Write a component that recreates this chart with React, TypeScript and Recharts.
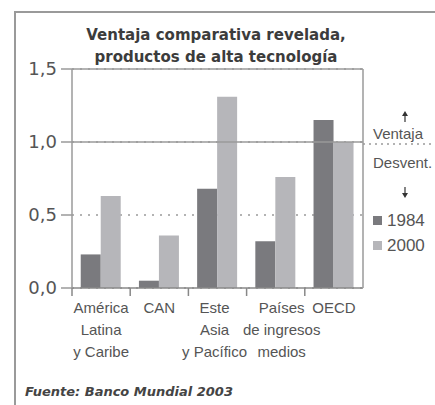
import React from 'react';
import { BarChart, Bar, XAxis, YAxis, CartesianGrid, ReferenceLine, Legend } from 'recharts';

const categories = ['América\nLatina\ny Caribe', 'CAN', 'Este\nAsia\ny Pacífico', 'Países\nde ingresos\nmedios', 'OECD'];
const values1984 = [0.23, 0.05, 0.68, 0.32, 1.15];
const values2000 = [0.63, 0.36, 1.31, 0.76, 1.0];
const yTicks = [0, 0.5, 1, 1.5];
const seriesNames = ['1984', '2000'];
const titleLines = ['Ventaja comparativa revelada,', 'productos de alta tecnología'];
const sourceText = 'Fuente: Banco Mundial 2003';

const data = categories.map((c, i) => ({ cat: c, y1984: values1984[i], y2000: values2000[i] }));

const DARK = '#7a7a7e';
const LIGHT = '#b6b6ba';
const LINE = '#9a9a9a';
const AXIS = '#888';
const TEXT = '#555';
const SANS = '"Liberation Sans", Arial, sans-serif';
const DEJAVU = '"DejaVu Sans", sans-serif';
const Y_AXIS_WIDTH = 72; // the plot area starts right after the left axis (chart margin left = 0)

const fmt = (v: number) => v.toFixed(1).replace('.', ',');

// small typographic nudges of the label blocks, as in the original layout
const labelNudge: Record<number, number> = { 2: -3, 3: 6 };

const CatTick = (props: any) => {
  const { payload } = props;
  const x = Number(props.x);
  const y = Number(props.y);
  const value = String(payload && payload.value);
  const idx = categories.indexOf(value);
  const lines = value.split('\n');
  const cx = x + (labelNudge[idx] || 0);
  // band size derived from where the axis put this tick
  const half = idx >= 0 ? (x - Y_AXIS_WIDTH) / (2 * idx + 1) : NaN;
  const bx = x - half;
  return (
    <g>
      {Number.isFinite(bx) && <line x1={bx} y1={y} x2={bx} y2={y + 8} stroke={AXIS} strokeWidth={1.5} />}
      <text x={cx} y={y} textAnchor="middle" fill={TEXT} fontSize={15} fontFamily={SANS}>
        {lines.map((l, i) => (
          <tspan key={i} x={cx} dy={i === 0 ? 25 : 22}>{l}</tspan>
        ))}
      </text>
    </g>
  );
};

const OneLine = (props: any) => {
  const { x1, y1, x2 } = props;
  const ax = x2 + 42;
  return (
    <g>
      <line x1={x1} y1={y1} x2={x2} y2={y1} stroke={LINE} strokeWidth={1.5} />
      <line x1={x2} y1={y1 + 2} x2={x2 + 72} y2={y1 + 2} stroke={LINE} strokeWidth={1.5} strokeDasharray="2 4" />
      <text x={x2 + 10} y={y1 - 3} fill={TEXT} fontSize={15} fontFamily={SANS}>Ventaja</text>
      <text x={x2 + 10} y={y1 + 26} fill={TEXT} fontSize={15} fontFamily={SANS}>Desvent.</text>
      <line x1={ax} y1={y1 - 27} x2={ax} y2={y1 - 20} stroke="#333" strokeWidth={1.2} />
      <path d={`M${ax - 3},${y1 - 26} L${ax},${y1 - 31} L${ax + 3},${y1 - 26} Z`} fill="#333" />
      <line x1={ax} y1={y1 + 45} x2={ax} y2={y1 + 52} stroke="#333" strokeWidth={1.2} />
      <path d={`M${ax - 3},${y1 + 51} L${ax},${y1 + 56} L${ax + 3},${y1 + 51} Z`} fill="#333" />
    </g>
  );
};

const LegendContent = () => (
  <div style={{ fontFamily: SANS, fontSize: 17, color: TEXT, lineHeight: '25px' }}>
    {seriesNames.map((n, i) => (
      <div key={n} style={{ display: 'flex', alignItems: 'center' }}>
        <span style={{ display: 'inline-block', width: 9, height: 9, background: i === 0 ? DARK : LIGHT, marginRight: 5 }} />
        <span>{n}</span>
      </div>
    ))}
  </div>
);

export default function App() {
  return (
    <div style={{ position: 'absolute', left: 0, top: 0, width: 435, height: 405, background: '#fff', overflow: 'hidden' }}>
      <div style={{ position: 'absolute', left: 14, top: 11, width: 421, height: 394, borderLeft: `2px solid ${LINE}`, borderTop: `2px solid ${LINE}` }} />
      <div style={{ position: 'absolute', left: 0, top: 24, width: 432, textAlign: 'center', fontFamily: DEJAVU, fontWeight: 'bold', fontSize: 15, lineHeight: '22px', color: '#3c3c3c' }}>
        {titleLines.map((t) => <div key={t}>{t}</div>)}
      </div>
      <div style={{ position: 'absolute', left: 25, top: 384, fontFamily: DEJAVU, fontWeight: 'bold', fontStyle: 'italic', fontSize: 13, color: '#444', whiteSpace: 'nowrap' }}>
        {sourceText}
      </div>
      <div style={{ position: 'absolute', left: 0, top: 0 }}>
        <BarChart width={435} height={405} data={data} margin={{ top: 69, right: 0, bottom: 0, left: 0 }} barCategoryGap="15%" barGap={0}>
          <CartesianGrid xAxisId="cat" yAxisId="left" vertical={false} stroke={LINE} strokeDasharray="2 6" strokeWidth={1.5} />
          <XAxis xAxisId="cat" dataKey="cat" type="category" height={117} tickSize={0} tickMargin={0} axisLine={{ stroke: AXIS, strokeWidth: 1.5 }} tickLine={false} tick={<CatTick />} interval={0} />
          <YAxis yAxisId="left" domain={[0, 1.5]} ticks={yTicks} width={Y_AXIS_WIDTH} tickSize={11} tickMargin={4} tickFormatter={fmt} axisLine={{ stroke: LINE, strokeWidth: 1.5 }} tickLine={{ stroke: LINE, strokeWidth: 1.5 }} tick={{ fill: TEXT, fontSize: 18, fontFamily: DEJAVU }} />
          <YAxis yAxisId="right" orientation="right" domain={[0, 1.5]} width={72} tick={false} tickLine={false} axisLine={{ stroke: LINE, strokeWidth: 1.5 }} />
          <ReferenceLine xAxisId="cat" yAxisId="left" y={1.5} stroke={LINE} strokeWidth={1.5} />
          <ReferenceLine xAxisId="cat" yAxisId="left" y={1} shape={<OneLine />} />
          <Bar xAxisId="cat" yAxisId="left" dataKey="y1984" name={seriesNames[0]} fill={DARK} isAnimationActive={false} />
          <Bar xAxisId="cat" yAxisId="left" dataKey="y2000" name={seriesNames[1]} fill={LIGHT} isAnimationActive={false} />
          <Legend layout="vertical" align="center" verticalAlign="middle" content={<LegendContent />} wrapperStyle={{ position: 'absolute', left: 373, top: 208, width: 60 }} />
        </BarChart>
      </div>
    </div>
  );
}
